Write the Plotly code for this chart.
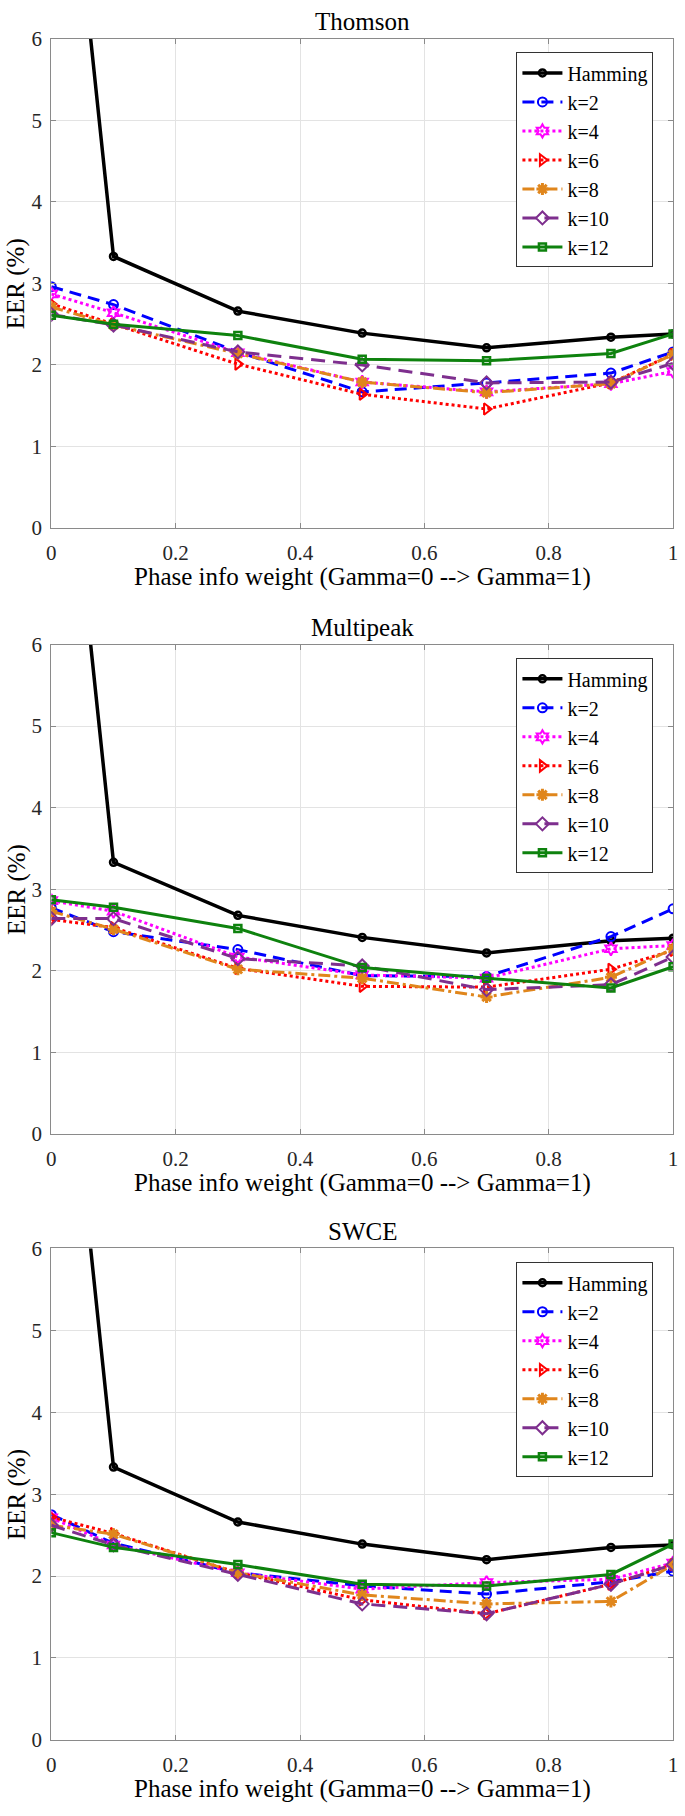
import plotly.graph_objects as go

W, H = 685, 1816
FONT = "'Times New Roman', 'Liberation Serif', 'DejaVu Serif', serif"

gamma = [0, 0.1, 0.3, 0.5, 0.7, 0.9, 1.0]
series_names = ["Hamming", "k=2", "k=4", "k=6", "k=8", "k=10", "k=12"]
panel_titles = ["Thomson", "Multipeak", "SWCE"]
x_ticks = [0, 0.2, 0.4, 0.6, 0.8, 1.0]
x_tick_labels = ["0", "0.2", "0.4", "0.6", "0.8", "1"]
y_ticks = [0, 1, 2, 3, 4, 5, 6]
y_tick_labels = ["0", "1", "2", "3", "4", "5", "6"]

# EER (%) values, order: Hamming, k=2, k=4, k=6, k=8, k=10, k=12
thomson_hamming = [10.6, 3.33, 2.66, 2.39, 2.21, 2.34, 2.38]
thomson_k2 = [2.96, 2.74, 2.16, 1.67, 1.78, 1.90, 2.16]
thomson_k4 = [2.87, 2.64, 2.15, 1.79, 1.67, 1.77, 1.92]
thomson_k6 = [2.75, 2.50, 2.01, 1.64, 1.46, 1.78, 2.13]
thomson_k8 = [2.71, 2.49, 2.14, 1.79, 1.66, 1.77, 2.13]
thomson_k10 = [2.62, 2.49, 2.16, 2.00, 1.78, 1.79, 2.02]
thomson_k12 = [2.61, 2.50, 2.36, 2.07, 2.05, 2.14, 2.38]

multipeak_hamming = [10.6, 3.33, 2.68, 2.41, 2.22, 2.37, 2.40]
multipeak_k2 = [2.77, 2.48, 2.26, 1.94, 1.93, 2.42, 2.76]
multipeak_k4 = [2.86, 2.73, 2.17, 1.95, 1.91, 2.27, 2.31]
multipeak_k6 = [2.63, 2.53, 2.03, 1.81, 1.80, 2.02, 2.25]
multipeak_k8 = [2.73, 2.51, 2.02, 1.91, 1.68, 1.92, 2.27]
multipeak_k10 = [2.64, 2.64, 2.15, 2.06, 1.77, 1.83, 2.17]
multipeak_k12 = [2.87, 2.78, 2.52, 2.04, 1.91, 1.79, 2.05]

swce_hamming = [10.6, 3.33, 2.66, 2.39, 2.20, 2.35, 2.38]
swce_k2 = [2.75, 2.40, 2.04, 1.88, 1.78, 1.93, 2.06]
swce_k4 = [2.71, 2.38, 2.04, 1.84, 1.92, 1.96, 2.16]
swce_k6 = [2.72, 2.52, 2.04, 1.71, 1.54, 1.90, 2.14]
swce_k8 = [2.62, 2.51, 2.04, 1.77, 1.66, 1.69, 2.14]
swce_k10 = [2.62, 2.38, 2.02, 1.66, 1.54, 1.90, 2.14]
swce_k12 = [2.53, 2.35, 2.14, 1.90, 1.88, 2.02, 2.39]

panels = [
    [thomson_hamming, thomson_k2, thomson_k4, thomson_k6, thomson_k8, thomson_k10, thomson_k12],
    [multipeak_hamming, multipeak_k2, multipeak_k4, multipeak_k6, multipeak_k8, multipeak_k10, multipeak_k12],
    [swce_hamming, swce_k2, swce_k4, swce_k6, swce_k8, swce_k10, swce_k12],
]

styles = [
    dict(color="#000000", dash="solid", symbol="circle-open", size=7, lw=3.5, mlw=2.5),
    dict(color="#0000FF", dash="12px,7px", symbol="circle-open", size=9, lw=3, mlw=2),
    dict(color="#FF00FF", dash="3px,3px", symbol="hexagram-open", size=10, lw=3, mlw=2),
    dict(color="#FF0000", dash="3px,3px", symbol="triangle-right-open", size=10, lw=3, mlw=2),
    dict(color="#E0861C", dash="12px,4px,3px,4px", symbol="asterisk-open", size=10, lw=3, mlw=3),
    dict(color="#7E2F8E", dash="14px,8px", symbol="diamond-open", size=10, lw=3, mlw=2),
    dict(color="#0E820E", dash="solid", symbol="square-open", size=7, lw=3, mlw=2.5),
]

# plot-area pixel boxes (top, bottom)
X0, X1 = 47, 678
boxes = [(27, 523), (641, 1137), (1253, 1751)]
LEG_X = 519
YT_X = 12

fig = go.Figure()
layout = dict(
    width=W, height=H, margin=dict(l=0, r=0, t=0, b=0),
    paper_bgcolor="white", plot_bgcolor="white",
    font=dict(family=FONT, size=21, color="#262626"),
    showlegend=True, annotations=[],
)

for p, (top, bot) in enumerate(boxes):
    sfx = "" if p == 0 else str(p + 1)
    xa, ya = "x" + sfx, "y" + sfx
    leg = "legend" + sfx
    for s, name in enumerate(series_names):
        st = styles[s]
        fig.add_trace(go.Scatter(
            x=gamma, y=panels[p][s], name=name, mode="lines+markers",
            xaxis=xa, yaxis=ya, legend=leg,
            line=dict(color=st["color"], width=st["lw"], dash=st["dash"]),
            marker=dict(symbol=st["symbol"], size=st["size"], color=st["color"],
                        line=dict(color=st["color"], width=st["mlw"])),
            cliponaxis=True,
        ))
    axcommon = dict(showgrid=True, gridcolor="#e3e3e3", gridwidth=1,
                    showline=True, linecolor="#8a8a8a", linewidth=1, mirror="allticks",
                    ticks="inside", ticklen=5, tickcolor="#8a8a8a", zeroline=False,
                    ticklabeloverflow="allow",
                    tickfont=dict(family=FONT, size=21, color="#262626"))
    layout["xaxis" + sfx] = dict(axcommon, domain=[X0 / W, X1 / W], range=[0, 1],
                                 tickvals=x_ticks, ticktext=x_tick_labels, anchor=ya,
                                 ticklabelstandoff=6)
    layout["yaxis" + sfx] = dict(axcommon, domain=[1 - bot / H, 1 - top / H], range=[0, 6],
                                 tickvals=y_ticks, ticktext=y_tick_labels, anchor=xa,
                                 ticklabelstandoff=4)
    layout[leg] = dict(x=LEG_X / W, xanchor="left", y=1 - (top + 14) / H, yanchor="top",
                       bgcolor="white", bordercolor="#333333", borderwidth=1,
                       font=dict(family=FONT, size=20, color="#000000"),
                       itemwidth=40, tracegroupgap=0)
    layout["annotations"] += [
        dict(text=panel_titles[p], x=(X0 + X1) / 2 / W, y=1 - (top - 17) / H,
             xref="paper", yref="paper", showarrow=False, xanchor="center", yanchor="middle",
             font=dict(family=FONT, size=25, color="#000000")),
        dict(text="Phase info weight (Gamma=0 --> Gamma=1)", x=(X0 + X1) / 2 / W,
             y=1 - (bot + 50) / H, xref="paper", yref="paper", showarrow=False,
             xanchor="center", yanchor="middle",
             font=dict(family=FONT, size=25, color="#000000")),
        dict(text="EER (%)", x=YT_X / W, y=1 - (top + bot) / 2 / H, xref="paper", yref="paper",
             showarrow=False, xanchor="center", yanchor="middle", textangle=-90,
             font=dict(family=FONT, size=25, color="#000000")),
    ]

fig.update_layout(**layout)
# remove the browser's default 8px body margin so the figure fills the window exactly
fig.write_html("out.html", config={"displayModeBar": False},
               post_script="document.body.style.margin='0';")
